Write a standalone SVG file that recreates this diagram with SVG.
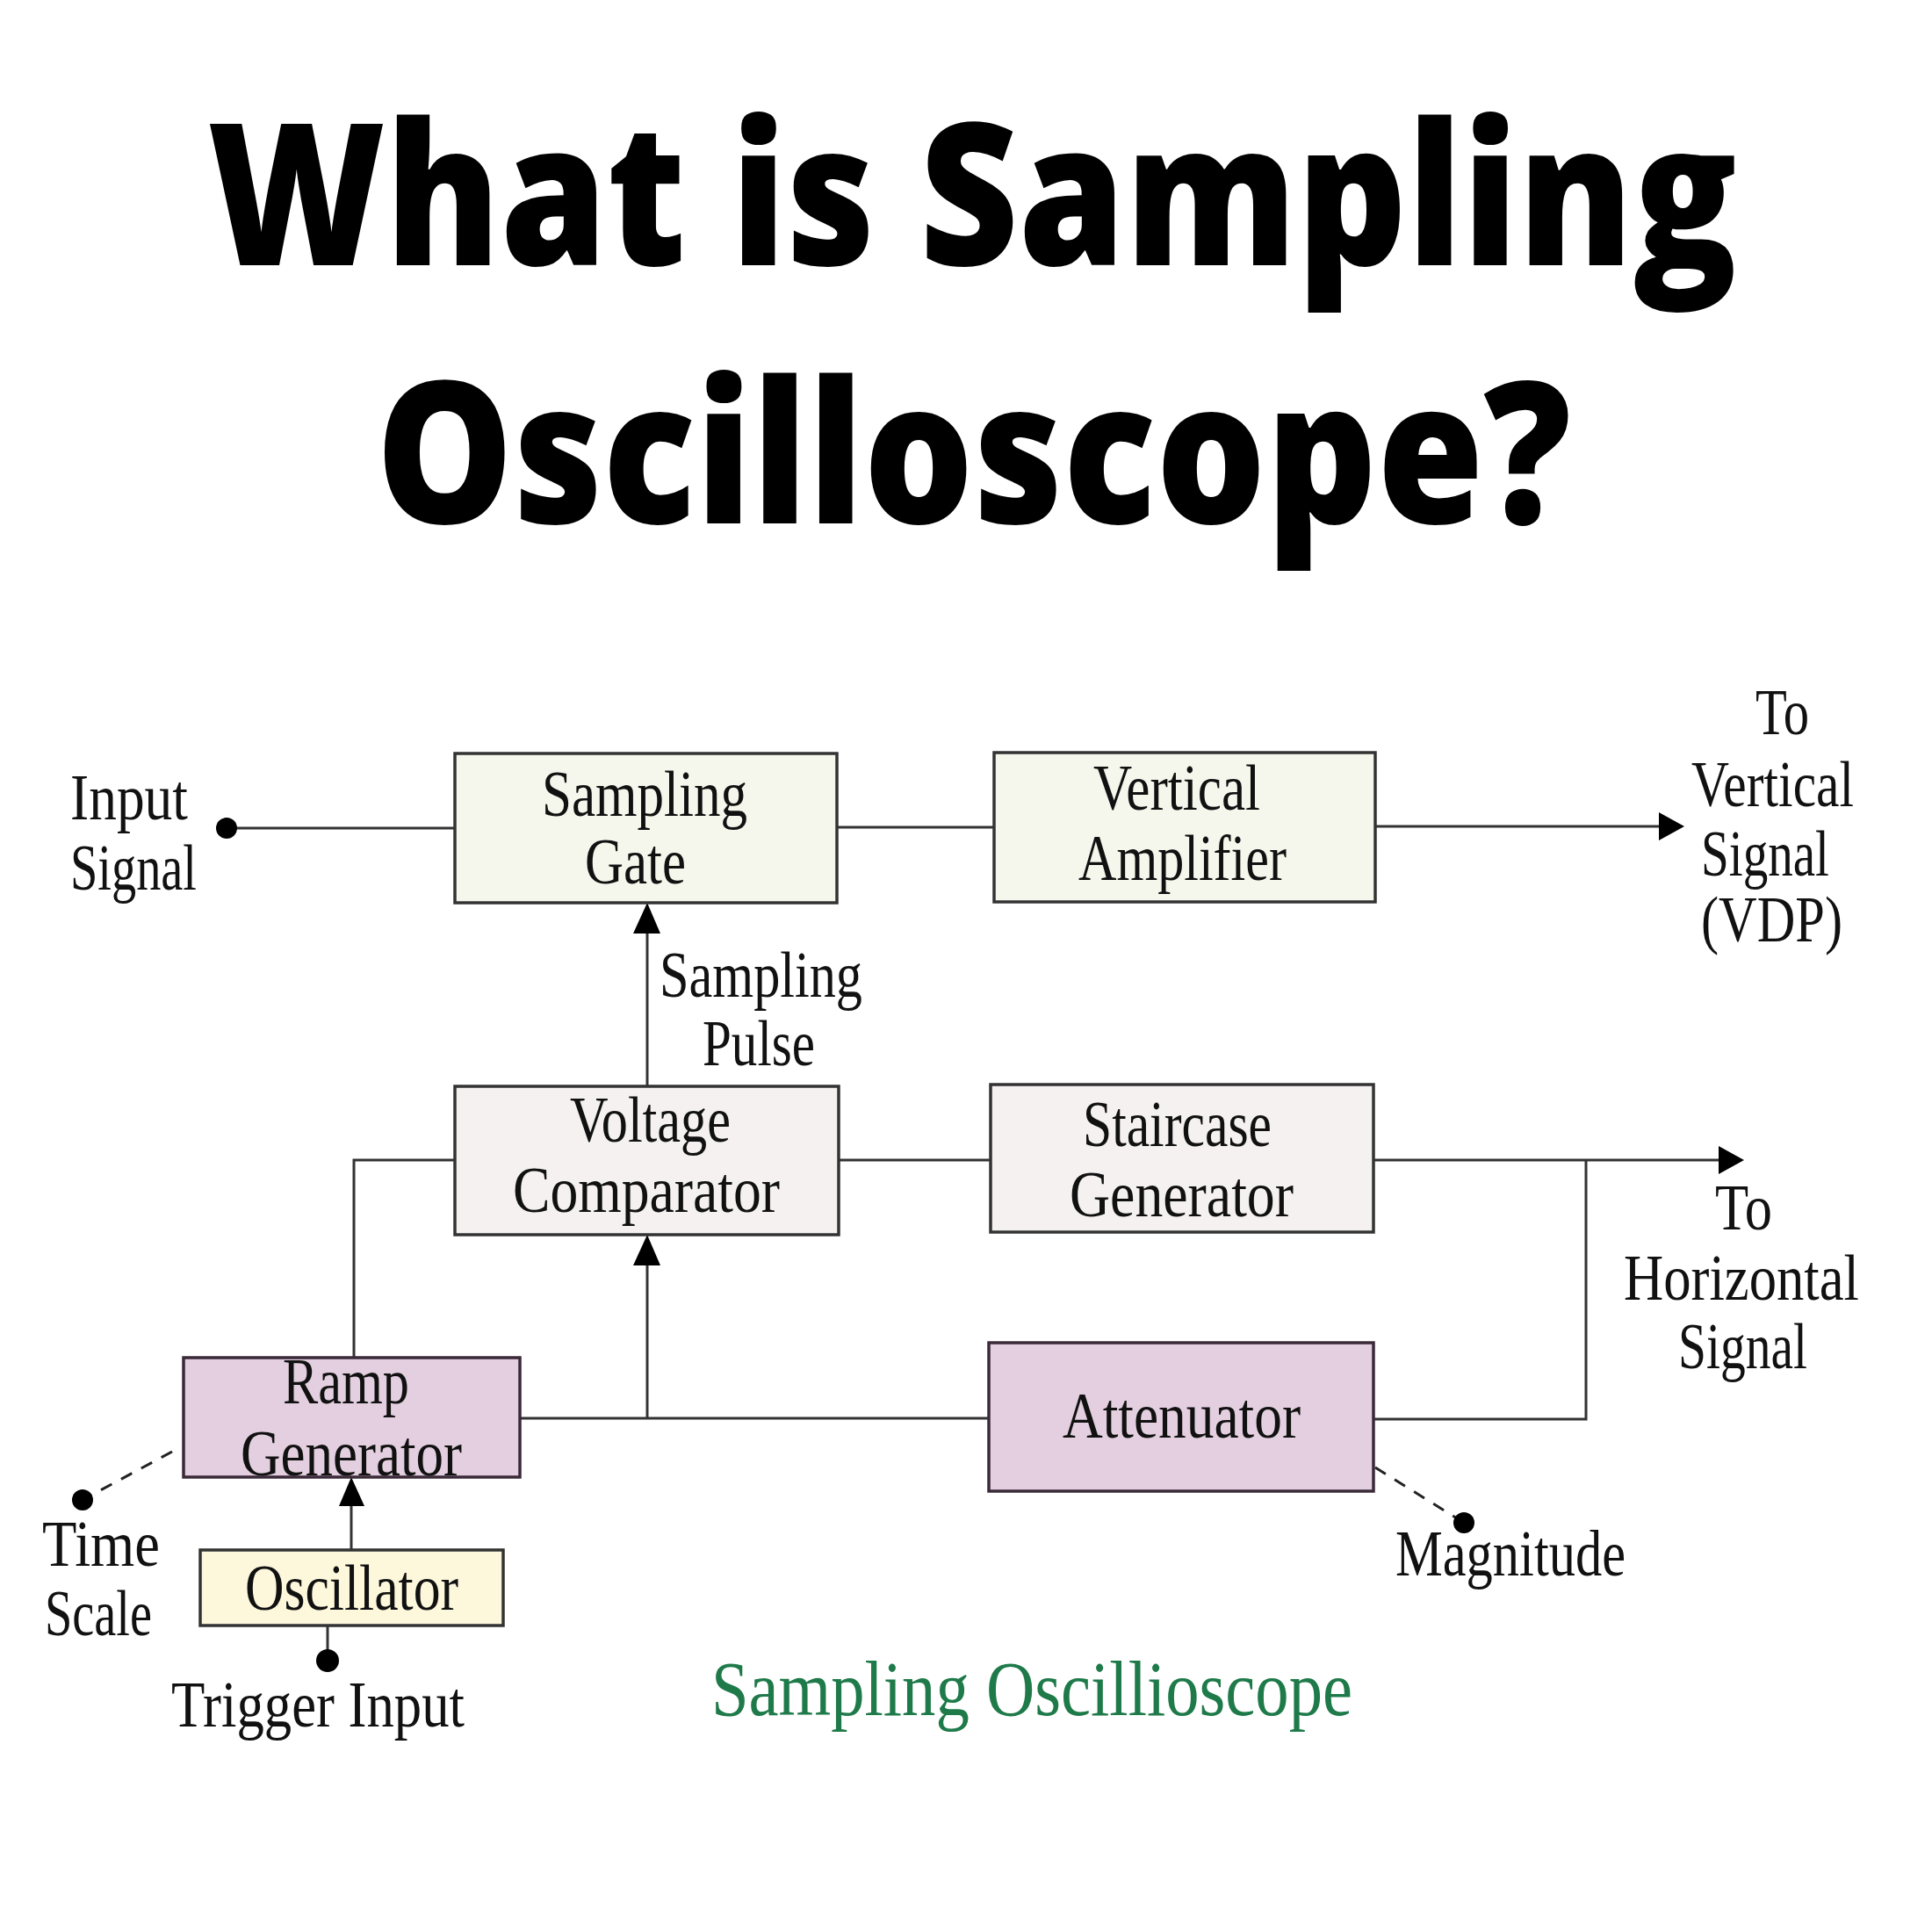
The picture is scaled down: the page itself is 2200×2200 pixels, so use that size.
<svg xmlns="http://www.w3.org/2000/svg" width="2200" height="2200" viewBox="0 0 2200 2200">
<defs>
<style>
.title{font-family:"Open Sans","Noto Sans",sans-serif;font-weight:800;font-size:226px;fill:#000;text-anchor:start}
.lbl{font-family:"Liberation Serif","DejaVu Serif",serif;font-size:74px;fill:#111}
.box{stroke:#333;stroke-width:3.5}
.g{fill:#f6f7ec}
.w{fill:#f5f1f1}
.p{fill:#e3cfdf;stroke:#3a2a38}
.y{fill:#fdf7dc}
.ln{stroke:#333;stroke-width:3;fill:none}
.dash{stroke:#222;stroke-width:3;fill:none;stroke-dasharray:14 12}
.dot{fill:#000}
.cap{font-family:"Liberation Serif","DejaVu Serif",serif;font-size:88px;fill:#1f7a4a}
</style>
<marker id="arr" viewBox="0 0 10 10" refX="10" refY="5" markerWidth="10" markerHeight="10" markerUnits="userSpaceOnUse" orient="auto">
<path d="M0,0 L10,5 L0,10 z" fill="#000"/>
</marker>
</defs>
<rect width="2200" height="2200" fill="#fff"/>
<g id="title">
<text class="title" x="236" y="302" textLength="1742" lengthAdjust="spacingAndGlyphs">What is Sampling</text>
<text class="title" x="428" y="596" textLength="1361" lengthAdjust="spacingAndGlyphs">Oscilloscope?</text>
</g>
<g id="connectors">
<line class="ln" x1="258" y1="943" x2="518" y2="943"/>
<line class="ln" x1="953" y1="942" x2="1132" y2="942"/>
<line class="ln" x1="1566" y1="941" x2="1890" y2="941"/>
<polygon points="1889,925 1918,941 1889,957" fill="#000"/>
<line class="ln" x1="737" y1="1237" x2="737" y2="1060"/>
<polygon points="721,1063 737,1028 752,1063" fill="#000"/>
<polyline class="ln" points="518,1321 403,1321 403,1546"/>
<line class="ln" x1="955" y1="1321" x2="1128" y2="1321"/>
<line class="ln" x1="1564" y1="1321" x2="1960" y2="1321"/>
<polygon points="1957,1305 1986,1321 1957,1337" fill="#000"/>
<polyline class="ln" points="1806,1321 1806,1616 1564,1616"/>
<line class="ln" x1="592" y1="1615" x2="1126" y2="1615"/>
<line class="ln" x1="737" y1="1615" x2="737" y2="1438"/>
<polygon points="721,1441 737,1406 752,1441" fill="#000"/>
<line class="ln" x1="400" y1="1765" x2="400" y2="1712"/>
<polygon points="386,1715 400,1682 415,1715" fill="#000"/>
<line class="ln" x1="373" y1="1851" x2="373" y2="1891"/>
<line class="dash" x1="196" y1="1653" x2="94" y2="1708"/>
<line class="dash" x1="1566" y1="1671" x2="1667" y2="1734"/>
</g>
<g id="input-signal">
<circle class="dot" cx="258" cy="943" r="12"/>
<text class="lbl" x="80" y="933" textLength="134" lengthAdjust="spacingAndGlyphs">Input</text>
<text class="lbl" x="80" y="1013" textLength="144" lengthAdjust="spacingAndGlyphs">Signal</text>
</g>
<g id="sampling-gate">
<rect class="box g" x="518" y="858" width="435" height="170"/>
<text class="lbl" x="617" y="929" textLength="234" lengthAdjust="spacingAndGlyphs">Sampling</text>
<text class="lbl" x="666" y="1006" textLength="115" lengthAdjust="spacingAndGlyphs">Gate</text>
</g>
<g id="vertical-amplifier">
<rect class="box g" x="1132" y="857" width="434" height="170"/>
<text class="lbl" x="1245" y="922" textLength="190" lengthAdjust="spacingAndGlyphs">Vertical</text>
<text class="lbl" x="1228" y="1002" textLength="237" lengthAdjust="spacingAndGlyphs">Amplifier</text>
</g>
<g id="to-vertical">
<text class="lbl" x="1999" y="836" textLength="61" lengthAdjust="spacingAndGlyphs">To</text>
<text class="lbl" x="1926" y="918" textLength="185" lengthAdjust="spacingAndGlyphs">Vertical</text>
<text class="lbl" x="1937" y="997" textLength="146" lengthAdjust="spacingAndGlyphs">Signal</text>
<text class="lbl" x="1937" y="1072" textLength="161" lengthAdjust="spacingAndGlyphs">(VDP)</text>
</g>
<g id="sampling-pulse">
<text class="lbl" x="751" y="1135" textLength="231" lengthAdjust="spacingAndGlyphs">Sampling</text>
<text class="lbl" x="800" y="1213" textLength="128" lengthAdjust="spacingAndGlyphs">Pulse</text>
</g>
<g id="voltage-comparator">
<rect class="box w" x="518" y="1237" width="437" height="169"/>
<text class="lbl" x="649" y="1300" textLength="183" lengthAdjust="spacingAndGlyphs">Voltage</text>
<text class="lbl" x="584" y="1380" textLength="304" lengthAdjust="spacingAndGlyphs">Comparator</text>
</g>
<g id="staircase-generator">
<rect class="box w" x="1128" y="1235" width="436" height="168"/>
<text class="lbl" x="1233" y="1305" textLength="215" lengthAdjust="spacingAndGlyphs">Staircase</text>
<text class="lbl" x="1218" y="1385" textLength="255" lengthAdjust="spacingAndGlyphs">Generator</text>
</g>
<g id="to-horizontal">
<text class="lbl" x="1953" y="1400" textLength="65" lengthAdjust="spacingAndGlyphs">To</text>
<text class="lbl" x="1849" y="1480" textLength="268" lengthAdjust="spacingAndGlyphs">Horizontal</text>
<text class="lbl" x="1911" y="1558" textLength="147" lengthAdjust="spacingAndGlyphs">Signal</text>
</g>
<g id="ramp-generator">
<rect class="box p" x="209" y="1546" width="383" height="136"/>
<text class="lbl" x="322" y="1598" textLength="144" lengthAdjust="spacingAndGlyphs">Ramp</text>
<text class="lbl" x="274" y="1680" textLength="252" lengthAdjust="spacingAndGlyphs">Generator</text>
</g>
<g id="attenuator">
<rect class="box p" x="1126" y="1529" width="438" height="169"/>
<text class="lbl" x="1210" y="1637" textLength="271" lengthAdjust="spacingAndGlyphs">Attenuator</text>
</g>
<g id="magnitude">
<circle class="dot" cx="1667" cy="1734" r="12"/>
<text class="lbl" x="1589" y="1794" textLength="262" lengthAdjust="spacingAndGlyphs">Magnitude</text>
</g>
<g id="time-scale">
<circle class="dot" cx="94" cy="1708" r="12"/>
<text class="lbl" x="48" y="1783" textLength="134" lengthAdjust="spacingAndGlyphs">Time</text>
<text class="lbl" x="51" y="1862" textLength="122" lengthAdjust="spacingAndGlyphs">Scale</text>
</g>
<g id="oscillator">
<rect class="box y" x="228" y="1765" width="345" height="86"/>
<text class="lbl" x="279" y="1833" textLength="243" lengthAdjust="spacingAndGlyphs">Oscillator</text>
</g>
<g id="trigger-input">
<circle class="dot" cx="373" cy="1891" r="13"/>
<text class="lbl" x="195" y="1966" textLength="334" lengthAdjust="spacingAndGlyphs">Trigger Input</text>
</g>
<g id="caption">
<text class="cap" x="810" y="1953" textLength="730" lengthAdjust="spacingAndGlyphs">Sampling Oscillioscope</text>
</g>
</svg>
